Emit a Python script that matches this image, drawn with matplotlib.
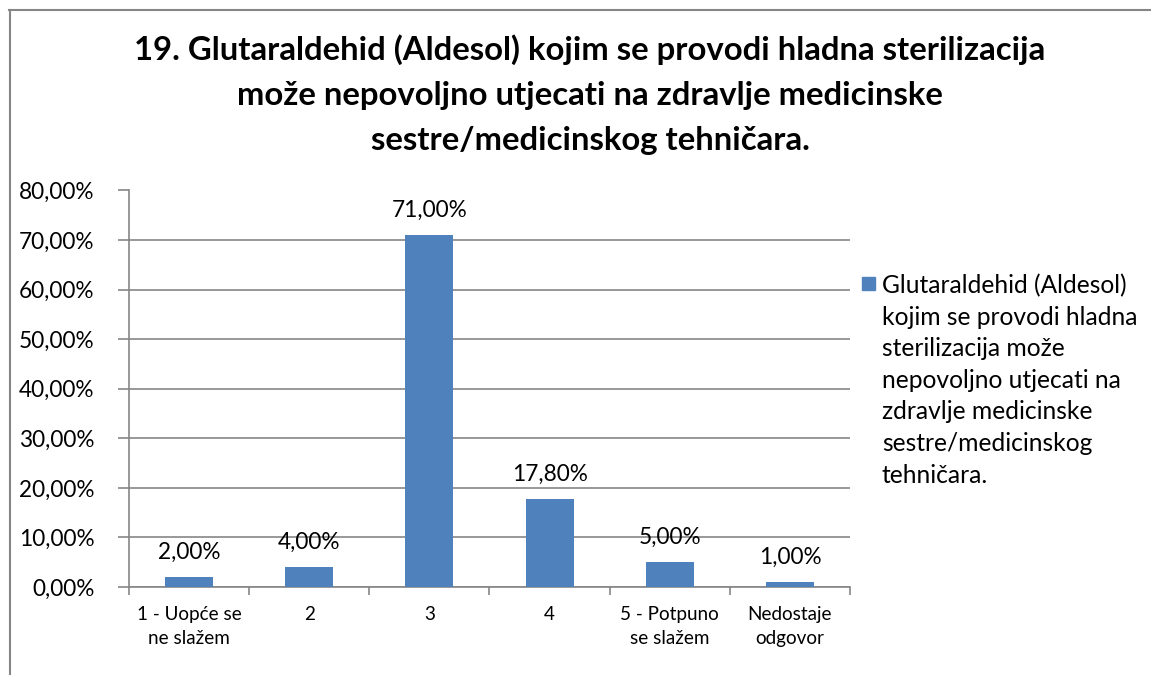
import matplotlib.pyplot as plt
from matplotlib.lines import Line2D
from matplotlib.patches import Rectangle
from matplotlib.ticker import FuncFormatter, MultipleLocator

plt.rcParams['font.family'] = ['Lato', 'DejaVu Sans']

categories = ["1 - Uopće se\nne slažem", "2", "3", "4", "5 - Potpuno\nse slažem", "Nedostaje\nodgovor"]
values = [2.0, 4.0, 71.0, 17.8, 5.0, 1.0]
series_name = ("Glutaraldehid (Aldesol)\nkojim se provodi hladna\nsterilizacija može\n"
               "nepovoljno utjecati na\nzdravlje medicinske\nsestre/medicinskog\ntehničara.")
title = ("19. Glutaraldehid (Aldesol) kojim se provodi hladna sterilizacija\n"
         "može nepovoljno utjecati na zdravlje medicinske\n"
         "sestre/medicinskog tehničara.")

BAR = "#4F81BD"
GRID = "#868686"


def pct(v):
    return f"{v:.2f}%".replace(".", ",")


W, H = 1151, 675
fig = plt.figure(figsize=(W / 100, H / 100), dpi=100)
ax = fig.add_axes([129 / W, 1 - 587 / H, (850 - 129) / W, (587 - 190.5) / H])

x = range(len(categories))
bars = ax.bar(x, values, width=0.4, color=BAR, zorder=3)
ax.bar_label(bars, labels=[pct(v) for v in values], padding=10, fontsize=16.3)

ax.set_xlim(-0.5, len(categories) - 0.5)
ax.set_ylim(0, 80)
ax.yaxis.set_major_locator(MultipleLocator(10))
ax.yaxis.set_major_formatter(FuncFormatter(lambda v, _: pct(v)))
ax.grid(axis="y", color=GRID, linewidth=1.2, zorder=0)

# category boundaries carry the ticks, labels sit at the centres
ax.set_xticks([i - 0.5 for i in range(len(categories) + 1)], minor=False)
ax.set_xticklabels([])
ax.set_xticks(list(x), minor=True)
ax.set_xticklabels(categories, minor=True, fontsize=13.6, linespacing=1.45)
ax.tick_params(axis="x", which="minor", length=0, pad=14)
ax.tick_params(axis="x", which="major", length=6, color=GRID, width=1.2)
ax.tick_params(axis="y", length=8, color=GRID, width=1.2, labelsize=16.3, pad=17)

for side in ("top", "right"):
    ax.spines[side].set_visible(False)
for side in ("left", "bottom"):
    ax.spines[side].set_color(GRID)
    ax.spines[side].set_linewidth(1.2)

fig.text(590 / W, 1 - 34 / H, title, ha="center", va="top", fontsize=23.7,
         fontweight="bold", linespacing=1.68)

# legend: square next to the first line of the wrapped series name
fig.add_artist(Rectangle((862 / W, 1 - 290 / H), 13 / W, 13 / H, color=BAR,
                         transform=fig.transFigure))
fig.text(882 / W, 1 - 274 / H, series_name, ha="left", va="top", fontsize=17.7,
         linespacing=1.45)

# chart frame (only top and left edges visible in the crop)
fig.add_artist(Line2D([9.5 / W, 9.5 / W], [0, 1 - 10 / H], color=GRID, linewidth=1.5))
fig.add_artist(Line2D([9 / W, 1], [1 - 10 / H, 1 - 10 / H], color=GRID, linewidth=1.5))

fig.savefig("out.png", dpi=100)
